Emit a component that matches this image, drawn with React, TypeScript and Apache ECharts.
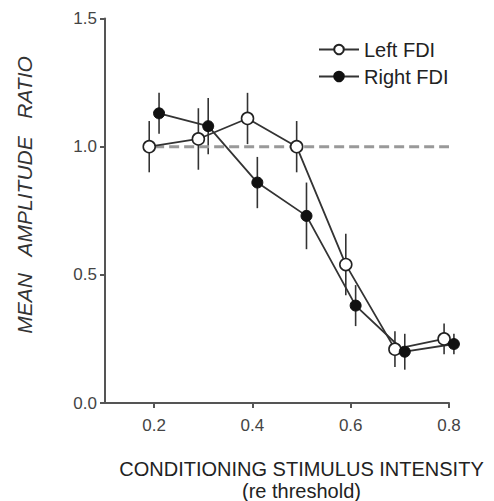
import React, { useEffect, useRef } from "react";
import * as echarts from "echarts";

const leftX = [0.19, 0.29, 0.39, 0.49, 0.59, 0.69, 0.79];
const leftMean = [1.0, 1.03, 1.11, 1.0, 0.54, 0.21, 0.25];
const leftErr = [0.1, 0.12, 0.1, 0.1, 0.12, 0.07, 0.06];

const rightX = [0.21, 0.31, 0.41, 0.51, 0.61, 0.71, 0.81];
const rightMean = [1.13, 1.08, 0.86, 0.73, 0.38, 0.2, 0.23];
const rightErr = [0.08, 0.11, 0.1, 0.13, 0.08, 0.07, 0.04];

const xTicks = [0.2, 0.4, 0.6, 0.8];
const referenceLine = [
  [0.2, 1.0],
  [0.8, 1.0],
];

const FONT = "'Liberation Sans', Arial, sans-serif";

export default function App() {
  const ref = useRef<HTMLDivElement>(null);

  useEffect(() => {
    if (!ref.current) return;
    const chart = echarts.init(ref.current, undefined, { renderer: "svg" });

    const errData = (xs: number[], ms: number[], es: number[]) =>
      xs.map((x, i) => [x, ms[i] - es[i], ms[i] + es[i]]);

    const errSeries = (name: string, data: number[][]) => ({
      type: "custom",
      name,
      clip: false,
      z: 1,
      encode: { x: 0, y: [1, 2] },
      data,
      renderItem: (params: any, api: any) => {
        const x = api.value(0);
        const lo = api.coord([x, api.value(1)]);
        const hi = api.coord([x, api.value(2)]);
        return {
          type: "line",
          shape: { x1: lo[0], y1: lo[1], x2: hi[0], y2: hi[1] },
          style: { stroke: "#333", lineWidth: 1.6 },
        };
      },
    });

    chart.setOption({
      animation: false,
      backgroundColor: "#fff",
      grid: { left: 105, right: 45, top: 18.5, bottom: 98 },
      xAxis: {
        type: "value",
        min: 0.1,
        max: 0.8,
        splitLine: { show: false },
        axisLine: { show: true, lineStyle: { color: "#555", width: 2 } },
        axisTick: {
          show: true,
          length: 5,
          customValues: xTicks,
          lineStyle: { color: "#555", width: 2 },
        },
        axisLabel: {
          customValues: xTicks,
          margin: 14,
          fontSize: 17,
          fontFamily: FONT,
          color: "#444",
          formatter: (v: number) => v.toFixed(1),
        },
      },
      yAxis: {
        type: "value",
        min: 0,
        max: 1.5,
        interval: 0.5,
        splitLine: { show: false },
        axisLine: { show: true, lineStyle: { color: "#555", width: 2 } },
        axisTick: { show: true, length: 5, lineStyle: { color: "#555", width: 2 } },
        axisLabel: {
          margin: 8,
          fontSize: 17,
          fontFamily: FONT,
          color: "#444",
          formatter: (v: number) => v.toFixed(1),
        },
      },
      legend: {
        data: ["Left FDI", "Right FDI"],
        orient: "vertical",
        left: 318,
        top: 39.5,
        padding: 0,
        itemWidth: 40,
        itemHeight: 12,
        itemGap: 7,
        textStyle: { fontSize: 20, fontFamily: FONT, color: "#222" },
      },
      graphic: [
        {
          type: "text",
          x: 24,
          y: 195,
          rotation: Math.PI / 2,
          style: {
            text: "MEAN   AMPLITUDE   RATIO",
            fontSize: 21,
            fontStyle: "italic",
            fontFamily: FONT,
            fill: "#333",
            align: "center",
            verticalAlign: "middle",
          },
        },
        {
          type: "text",
          x: 301.5,
          y: 469,
          style: {
            text: "CONDITIONING STIMULUS INTENSITY",
            fontSize: 20,
            fontFamily: FONT,
            fill: "#222",
            align: "center",
            verticalAlign: "middle",
          },
        },
        {
          type: "text",
          x: 301.5,
          y: 491,
          style: {
            text: "(re threshold)",
            fontSize: 20,
            fontFamily: FONT,
            fill: "#222",
            align: "center",
            verticalAlign: "middle",
          },
        },
      ],
      series: [
        {
          type: "line",
          name: "ref",
          data: referenceLine,
          symbol: "none",
          z: 1,
          lineStyle: { color: "#999", width: 3, type: [10, 5] },
        },
        errSeries("errLeft", errData(leftX, leftMean, leftErr)),
        errSeries("errRight", errData(rightX, rightMean, rightErr)),
        {
          type: "line",
          name: "Left FDI",
          clip: false,
          z: 3,
          data: leftX.map((x, i) => [x, leftMean[i]]),
          symbol: "circle",
          symbolSize: 12,
          lineStyle: { color: "#333", width: 1.8 },
          itemStyle: { color: "#fff", borderColor: "#222", borderWidth: 1.6 },
        },
        {
          type: "line",
          name: "Right FDI",
          clip: false,
          z: 3,
          data: rightX.map((x, i) => [x, rightMean[i]]),
          symbol: "circle",
          symbolSize: 11,
          lineStyle: { color: "#333", width: 1.8 },
          itemStyle: { color: "#111", borderColor: "#111", borderWidth: 1 },
        },
      ],
    });

    return () => chart.dispose();
  }, []);

  return <div ref={ref} style={{ width: 494, height: 501, position: "absolute", left: 0, top: 0 }} />;
}
